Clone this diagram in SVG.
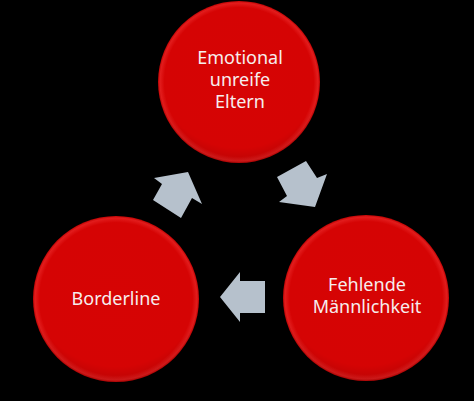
<svg xmlns="http://www.w3.org/2000/svg" width="474" height="401" viewBox="0 0 474 401">
<defs>
<radialGradient id="red" cx="0.5" cy="0.5" r="0.5">
<stop offset="0" stop-color="#d60404"/>
<stop offset="0.92" stop-color="#d50404"/>
<stop offset="0.975" stop-color="#e21c1c"/>
<stop offset="1" stop-color="#c00404"/>
</radialGradient>
<radialGradient id="shade" cx="0.5" cy="0.38" r="0.62">
<stop offset="0.85" stop-color="#000" stop-opacity="0"/>
<stop offset="1" stop-color="#000" stop-opacity="0.12"/>
</radialGradient>
<style>
.c{fill:url(#red);}
.s{fill:url(#shade);}
.t{font-family:"Noto Sans","Liberation Sans",sans-serif;font-size:18px;fill:#f6eeee;text-anchor:middle;}
.a{fill:#b6c1cc;}
</style>
</defs>
<rect width="474" height="401" fill="#000"/>
<g id="connectors">
<polygon class="a" points="154,178 188,172 202,204 192,198 181,218 153,200 162,184"/>
<polygon class="a" points="306,161 317,178 327,174 315,207 279,202 287,196 277,177"/>
<polygon class="a" points="220,297 240,272 240,281 265,281 265,313 240,313 240,322"/>
</g>
<g id="node-emotional">
<circle class="c" cx="239" cy="82" r="81"/>
<circle class="s" cx="239" cy="82" r="81"/>
<text class="t" x="240" y="64">Emotional</text>
<text class="t" x="240" y="86">unreife</text>
<text class="t" x="240" y="108">Eltern</text>
</g>
<g id="node-maennlichkeit">
<circle class="c" cx="366" cy="298" r="83"/>
<circle class="s" cx="366" cy="298" r="83"/>
<text class="t" x="367" y="291">Fehlende</text>
<text class="t" x="367" y="313">Männlichkeit</text>
</g>
<g id="node-borderline">
<circle class="c" cx="116" cy="299" r="83"/>
<circle class="s" cx="116" cy="299" r="83"/>
<text class="t" x="116" y="305">Borderline</text>
</g>
</svg>
